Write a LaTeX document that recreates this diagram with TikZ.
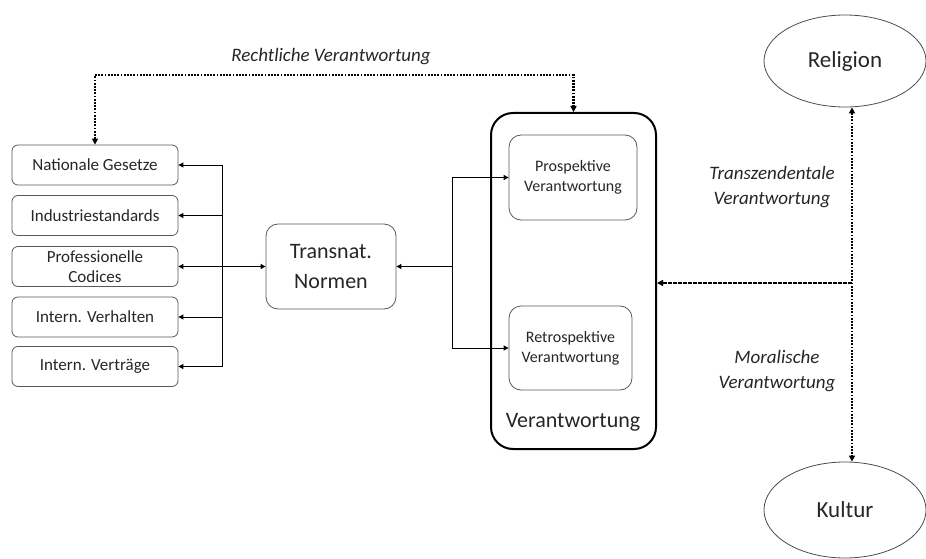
\documentclass[tikz,border=0pt]{standalone}
\usepackage{fontspec}
\setmainfont{Carlito}
\usetikzlibrary{arrows.meta,shapes.geometric}
\begin{document}
\begin{tikzpicture}[x=1pt,y=-1pt,
  lbox/.style={draw=black!65, line width=0.8pt, rounded corners=6pt, minimum width=166pt, minimum height=40pt, align=center, inner sep=0pt, font=\fontsize{17}{20}\selectfont, text=black!85},
  ibox/.style={draw=black!65, line width=0.8pt, rounded corners=12pt, align=center, inner sep=0pt, font=\fontsize{16}{20}\selectfont, text=black!85},
  ell/.style={draw=black!70, line width=0.8pt, ellipse, inner sep=0pt, font=\fontsize{23}{28}\selectfont, text=black!85},
  arr/.style={draw=black, line width=0.9pt, -{Triangle[length=5pt,width=5pt]}},
  dotline/.style={draw=black, line width=2.2pt, dash pattern=on 1.8pt off 1.4pt},
  dashline/.style={draw=black, line width=2pt, dash pattern=on 4pt off 1pt},
  lab/.style={font=\fontsize{19}{25}\selectfont\itshape, align=center, text=black!85}
]
\useasboundingbox (0,0) rectangle (926,559);

% left boxes
\node[lbox] (ng) at (95,165) {Nationale Gesetze};
\node[lbox] (is) at (95,215.5) {Industriestandards};
\node[lbox] (pc) at (95,266.5) {Professionelle\\Codices};
\node[lbox] (iv) at (95,317) {Intern. Verhalten};
\node[lbox] (ivt) at (95,366.5) {Intern. Verträge};

% Transnat
\node[ibox, minimum width=130pt, minimum height=85pt, font=\fontsize{22}{30}\selectfont] (tn) at (331,266.5) {Transnat.\\Normen};

% Verantwortung big box
\node[draw=black, line width=2pt, rounded corners=22pt, minimum width=165pt, minimum height=336pt, inner sep=0pt] (vr) at (573.5,281) {};
\node[font=\fontsize{22}{26}\selectfont, text=black!85] (vlab) at (573,422) {Verantwortung};
\node[ibox, minimum width=128pt, minimum height=85pt] (pv) at (573,177.5) {Prospektive\\Verantwortung};
\node[ibox, minimum width=123pt, minimum height=84pt] (rv) at (570.5,348) {Retrospektive\\Verantwortung};

% ellipses
\node[ell, minimum width=162pt, minimum height=92pt] (rel) at (845,61) {Religion};
\node[ell, minimum width=162pt, minimum height=96pt] (kul) at (845,510) {Kultur};

% left bus
\coordinate (b1) at (222,165);
\coordinate (b2) at (222,215.5);
\coordinate (b3) at (222,266.5);
\coordinate (b4) at (222,317);
\coordinate (b5) at (222,366.5);
\draw[line width=0.9pt] (b1) -- (b5);
\draw[arr] (b1) -- (ng.east);
\draw[arr] (b2) -- (is.east);
\draw[arr] (b3) -- (pc.east);
\draw[arr] (b4) -- (iv.east);
\draw[arr] (b5) -- (ivt.east);
\draw[arr, line width=1.4pt] (b3) -- (tn.west);

% right bus
\coordinate (jr) at (452,266.5);
\draw[arr] (jr) -- (tn.east);
\draw[arr] (jr) |- (pv.west);
\draw[arr] (jr) |- (rv.west);

% top dotted connector
\coordinate (top) at (0,75);
\draw[dotline, {Triangle[length=6pt,width=6pt]}-{Triangle[length=6pt,width=6pt]}] (ng.north) -- (ng.north |- top) -| (vr.north);
\node[lab] (rl) at (331,57) {Rechtliche Verantwortung};

% right connectors
\coordinate (rj) at (852,283);
\draw[dotline, {Triangle[length=6pt,width=6pt]}-{Triangle[length=6pt,width=6pt]}] (rj |- rel.south) -- (rj |- kul.north);
\draw[dashline, -{Triangle[length=6pt,width=6pt]}] (rj) -- (rj -| vr.east);
\node[lab] (tl) at (772,187.5) {Transzendentale\\Verantwortung};
\node[lab] (ml) at (777,371) {Moralische\\Verantwortung};
\end{tikzpicture}
\end{document}
